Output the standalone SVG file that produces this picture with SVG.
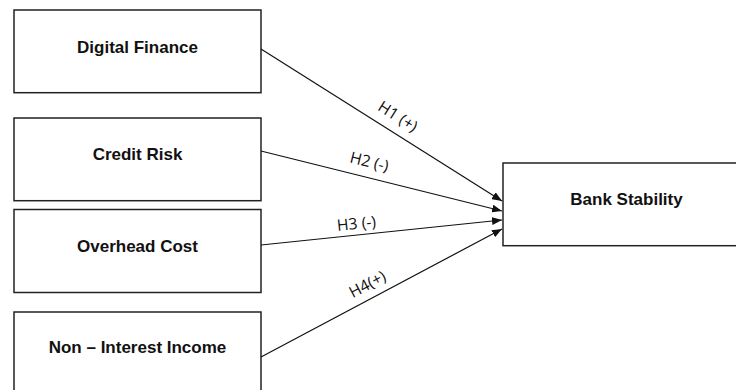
<svg xmlns="http://www.w3.org/2000/svg" width="736" height="390" viewBox="0 0 736 390">
  <style>
    .box { fill: #ffffff; stroke: #222222; stroke-width: 1.5; }
    .name { font-family: "Liberation Sans", Arial, sans-serif; font-weight: bold; font-size: 17px; fill: #111111; text-anchor: middle; }
    .link { stroke: #111111; stroke-width: 1.2; fill: none; marker-end: url(#arrow); }
    .hyp { font-family: "Open Sans", "DejaVu Sans", sans-serif; font-size: 15.8px; fill: #111111; text-anchor: middle; }
  </style>
  <defs>
    <marker id="arrow" viewBox="0 0 10 8" refX="10" refY="4" markerWidth="10" markerHeight="8" markerUnits="userSpaceOnUse" orient="auto">
      <path d="M0,0 L10,4 L0,8 Z" fill="#111111"/>
    </marker>
  </defs>

  <rect width="736" height="390" fill="#ffffff"/>

  <g id="digital-finance">
    <rect class="box" x="14" y="10" width="247" height="82.7"/>
    <text class="name" x="137.5" y="52.5">Digital Finance</text>
  </g>
  <g id="credit-risk">
    <rect class="box" x="14" y="118" width="247" height="82.7"/>
    <text class="name" x="137.5" y="159.5">Credit Risk</text>
  </g>
  <g id="overhead-cost">
    <rect class="box" x="14" y="209.5" width="247" height="83"/>
    <text class="name" x="137.5" y="251.5">Overhead Cost</text>
  </g>
  <g id="non-interest-income">
    <rect class="box" x="14" y="312" width="247" height="90"/>
    <text class="name" x="137.5" y="353">Non – Interest Income</text>
  </g>
  <g id="bank-stability">
    <rect class="box" x="503" y="163" width="250" height="82.7"/>
    <text class="name" x="626.5" y="205">Bank Stability</text>
  </g>

  <g id="connectors">
    <line class="link" x1="261" y1="49" x2="502" y2="201"/>
    <line class="link" x1="261" y1="151" x2="502" y2="211"/>
    <line class="link" x1="261" y1="245" x2="502" y2="220"/>
    <line class="link" x1="261" y1="357" x2="502" y2="229"/>
    <text class="hyp" transform="translate(395,121) rotate(32.2)">H1 (+)</text>
    <text class="hyp" transform="translate(368,167) rotate(14)">H2 (-)</text>
    <text class="hyp" transform="translate(357,229) rotate(-5.9)">H3 (-)</text>
    <text class="hyp" transform="translate(370,289) rotate(-28)">H4(+)</text>
  </g>
</svg>
